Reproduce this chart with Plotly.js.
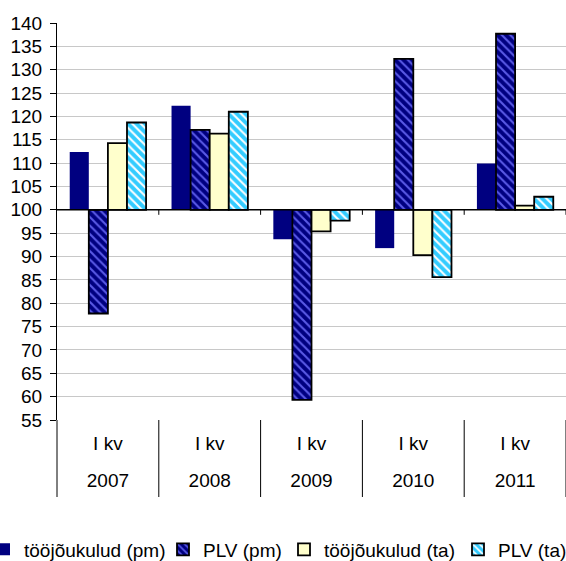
<!DOCTYPE html>
<html>
<head>
<meta charset="utf-8">
<script src="https://cdn.plot.ly/plotly-3.0.1.min.js"></script>
<style>html,body{margin:0;padding:0;background:#fff;}#chart{width:566px;height:561px;}</style>
</head>
<body>
<div id="chart"></div>
<script>
// Data
var years = ['2007', '2008', '2009', '2010', '2011'];
var quarters = ['I kv', 'I kv', 'I kv', 'I kv', 'I kv'];
var seriesNames = ['tööjõukulud (pm)', 'PLV (pm)', 'tööjõukulud (ta)', 'PLV (ta)'];
var toojoukuludPm = [112.4, 122.3, 93.7, 91.8, 109.9];
var plvPm = [77.8, 117.1, 59.3, 132.3, 137.7];
var toojoukuludTa = [114.3, 116.3, 95.4, 90.3, 100.9];
var plvTa = [118.7, 121.0, 97.7, 85.6, 102.8];
var baseValue = 100;
var yTickStart = 55, yTickEnd = 140, yTickStep = 5;

var FONT = 'Liberation Sans, Arial, sans-serif';
var W = 566, H = 561, ML = 57, MR = 0, MT = 23, MB = 141;
var PW = W - ML - MR;
function rel(arr) { return arr.map(function (v) { return v - baseValue; }); }
function bases(arr) { return arr.map(function () { return baseValue; }); }
var idx = years.map(function (_, i) { return i; });

var traces = [
  {
    type: 'bar', name: seriesNames[0], x: years, y: rel(toojoukuludPm), base: bases(toojoukuludPm),
    marker: { color: '#000080', line: { width: 0 } }, legend: 'legend'
  },
  {
    type: 'bar', name: seriesNames[1], x: years, y: rel(plvPm), base: bases(plvPm),
    marker: {
      color: '#000080', line: { color: '#000', width: 1.8 },
      pattern: { shape: '\\', fgcolor: '#5a5ae6', bgcolor: '#000080', size: 6, solidity: 0.35, fillmode: 'replace' }
    }, legend: 'legend2'
  },
  {
    type: 'bar', name: seriesNames[2], x: years, y: rel(toojoukuludTa), base: bases(toojoukuludTa),
    marker: { color: '#FFFFCC', line: { color: '#000', width: 1.8 } }, legend: 'legend3'
  },
  {
    type: 'bar', name: seriesNames[3], x: years, y: rel(plvTa), base: bases(plvTa),
    marker: {
      color: '#33CCFF', line: { color: '#000', width: 1.8 },
      pattern: { shape: '\\', fgcolor: '#ffffff', bgcolor: '#33CCFF', size: 6, solidity: 0.35, fillmode: 'replace' }
    }, legend: 'legend4'
  },
  // helper (no marks) so that the year-label axis gets drawn
  {
    type: 'scatter', mode: 'markers', x: idx, y: idx.map(function () { return null; }),
    xaxis: 'x2', yaxis: 'y', showlegend: false, hoverinfo: 'skip'
  }
];

function legendAt(px) {
  return {
    orientation: 'h', xref: 'paper', yref: 'container',
    x: (px - ML) / PW, xanchor: 'left', y: 1 - 549.5 / H, yanchor: 'middle',
    font: { family: FONT, size: 19, color: '#000' },
    bgcolor: 'rgba(0,0,0,0)', borderwidth: 0, itemwidth: 30
  };
}

var shapes = [{
  type: 'line', xref: 'paper', x0: 0, x1: 1, yref: 'y', y0: baseValue, y1: baseValue,
  line: { color: '#000', width: 1.5 }, layer: 'above'
}];
// small tick marks under the 100 line at the category boundaries
for (var k = 1; k <= years.length; k++) {
  shapes.push({
    type: 'line', xref: 'paper', x0: k / years.length, x1: k / years.length,
    yref: 'y', ysizemode: 'pixel', yanchor: baseValue, y0: 0, y1: -5,
    line: { color: '#000', width: 1 }, layer: 'above'
  });
}
// category dividers below the plot
for (var d = 0; d <= years.length; d++) {
  shapes.push({
    type: 'line', xref: 'paper', x0: d / years.length, x1: d / years.length,
    yref: 'paper', ysizemode: 'pixel', yanchor: 0, y0: 0, y1: -77,
    line: { color: '#000', width: 1 }, layer: 'above'
  });
}

var layout = {
  width: W, height: H,
  margin: { l: ML, r: MR, t: MT, b: MB, pad: 0, autoexpand: false },
  paper_bgcolor: '#fff', plot_bgcolor: '#fff',
  font: { family: FONT, size: 19, color: '#000' },
  barmode: 'group', bargap: 0.25, bargroupgap: 0,
  showlegend: true,
  xaxis: {
    type: 'category', range: [-0.5, years.length - 0.5],
    tickmode: 'array', tickvals: years, ticktext: quarters,
    ticks: '', ticklabelstandoff: 10,
    showgrid: false, showline: false, zeroline: false,
    tickfont: { family: FONT, size: 19, color: '#000' }
  },
  xaxis2: {
    type: 'linear', overlaying: 'x', anchor: 'y', side: 'bottom',
    range: [-0.5, years.length - 0.5],
    tickmode: 'array', tickvals: idx, ticktext: years,
    ticks: '', ticklabelstandoff: 47,
    showgrid: false, showline: false, zeroline: false,
    tickfont: { family: FONT, size: 19, color: '#000' }
  },
  yaxis: {
    range: [yTickStart, yTickEnd], tick0: yTickStart, dtick: yTickStep,
    showgrid: true, gridcolor: '#c8c8c8', gridwidth: 1,
    showline: true, linecolor: '#000', linewidth: 1,
    ticks: 'outside', ticklen: 6, tickcolor: '#000', tickwidth: 1,
    tickfont: { family: FONT, size: 19, color: '#000' }, zeroline: false,
    ticklabelstandoff: 4
  },
  shapes: shapes,
  legend: legendAt(-16),
  legend2: legendAt(163),
  legend3: legendAt(284),
  legend4: legendAt(458)
};

Plotly.newPlot('chart', traces, layout, { displayModeBar: false, staticPlot: true });
</script>
</body>
</html>
